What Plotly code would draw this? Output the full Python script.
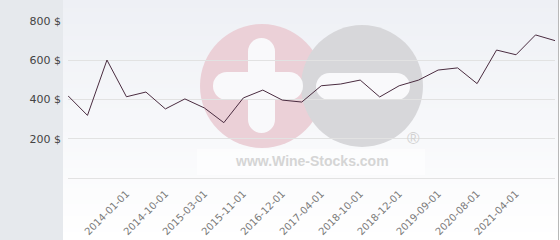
import plotly.graph_objects as go

# ---- data ----
point_index = list(range(26))
prices = [419, 319, 601, 414, 438, 352, 403, 357, 282, 408, 448, 397, 387,
          470, 479, 499, 413, 470, 499, 550, 561, 481, 652, 628, 729, 700]
tick_index = [3, 5, 7, 9, 11, 13, 15, 17, 19, 21, 23]
tick_labels = ["2014-01-01", "2014-10-01", "2015-03-01", "2015-11-01",
               "2016-12-01", "2017-04-01", "2018-10-01", "2018-12-01",
               "2019-09-01", "2020-08-01", "2021-04-01"]
y_ticks = [0, 200, 400, 600, 800]
y_tick_labels = ["", "200 $", "400 $", "600 $", "800 $"]

W, H = 560, 240
ML, MR, MT, MB = 68, 5, 21, 62
PW, PH = W - ML - MR, H - MT - MB


def fx(px):
    return (px - ML) / PW


def fy(py):
    return (H - MB - py) / PH


shapes = []
# gray left panel
shapes.append(dict(type="rect", xref="paper", yref="paper", x0=fx(0), x1=fx(63),
                   y0=fy(240), y1=fy(0), fillcolor="#e6e9ed", line_width=0, layer="below"))
# vertical gradient background (bands)
top = (238, 240, 245)
bot = (255, 255, 255)
n = 60
for i in range(n):
    t = i / (n - 1)
    c = tuple(round(top[k] + (bot[k] - top[k]) * t) for k in range(3))
    shapes.append(dict(type="rect", xref="paper", yref="paper", x0=fx(63), x1=fx(558),
                       y0=fy(i * 4 + 4), y1=fy(i * 4), fillcolor="rgb(%d,%d,%d)" % c,
                       line_width=0, layer="below"))
# right border
shapes.append(dict(type="line", xref="paper", yref="paper", x0=fx(558.5), x1=fx(558.5),
                   y0=fy(240), y1=fy(0), line=dict(color="#b8b8b8", width=1)))


def circle(cx, cy, r, color, opacity=1.0):
    return dict(type="circle", xref="paper", yref="paper", x0=fx(cx - r), x1=fx(cx + r),
                y0=fy(cy + r), y1=fy(cy - r), fillcolor=color, line_width=0,
                layer="below", opacity=opacity)


def capsule(x0, x1, y0, y1, color):
    out = []
    if (x1 - x0) >= (y1 - y0):
        r = (y1 - y0) / 2
        out.append(dict(type="rect", xref="paper", yref="paper", x0=fx(x0 + r), x1=fx(x1 - r),
                        y0=fy(y1), y1=fy(y0), fillcolor=color, line_width=0, layer="below"))
        out.append(circle(x0 + r, (y0 + y1) / 2, r, color))
        out.append(circle(x1 - r, (y0 + y1) / 2, r, color))
    else:
        r = (x1 - x0) / 2
        out.append(dict(type="rect", xref="paper", yref="paper", x0=fx(x0), x1=fx(x1),
                        y0=fy(y1 - r), y1=fy(y0 + r), fillcolor=color, line_width=0, layer="below"))
        out.append(circle((x0 + x1) / 2, y0 + r, r, color))
        out.append(circle((x0 + x1) / 2, y1 - r, r, color))
    return out


# watermark
shapes.append(circle(262, 86, 62, "#ebd0d7"))
shapes.append(circle(362, 86, 61, "#d7d7da"))
bar = "#f9f9fb"
shapes += capsule(248, 275, 38, 133, bar)
shapes += capsule(213, 303, 72, 100, bar)
shapes += capsule(316, 410, 73, 100, bar)
shapes.append(dict(type="rect", xref="paper", yref="paper", x0=fx(197), x1=fx(425),
                   y0=fy(175), y1=fy(149), fillcolor="white", opacity=0.55,
                   line_width=0, layer="below"))

annotations = [
    dict(text="<b>www.Wine-Stocks.com</b>", xref="paper", yref="paper", x=fx(312), y=fy(161),
         showarrow=False, xanchor="center", yanchor="middle",
         font=dict(family="Liberation Sans, Arial", size=14, color="#d5d5d5")),
    dict(text="®", xref="paper", yref="paper", x=fx(413), y=fy(138),
         showarrow=False, xanchor="center", yanchor="middle",
         font=dict(family="Liberation Sans, Arial", size=17, color="#d2d2d2")),
]

fig = go.Figure()
fig.add_trace(go.Scatter(x=point_index, y=prices, mode="lines",
                         line=dict(color="#4a2c40", width=1), hoverinfo="skip"))

fig.update_layout(
    width=W, height=H,
    margin=dict(l=ML, r=MR, t=MT, b=MB, pad=0, autoexpand=False),
    paper_bgcolor="white", plot_bgcolor="rgba(0,0,0,0)",
    showlegend=False,
    shapes=shapes, annotations=annotations,
    xaxis=dict(range=[0, 25], tickmode="array", tickvals=tick_index, ticktext=tick_labels,
               tickangle=-45, showgrid=False, zeroline=False, showline=True, automargin=False,
               linecolor="#e2e2e2", linewidth=1, ticks="", ticklabelstandoff=5,
               tickfont=dict(family="DejaVu Sans", size=10, color="#7a7a7a")),
    yaxis=dict(range=[0, 800], tickmode="array", tickvals=y_ticks, ticktext=y_tick_labels,
               showgrid=True, gridcolor="#e2e2e2", gridwidth=1, zeroline=False, automargin=False,
               showline=False, ticks="", ticklabelstandoff=6,
               tickfont=dict(family="DejaVu Sans", size=11, color="#444444")),
)

fig.write_html("out.html")
